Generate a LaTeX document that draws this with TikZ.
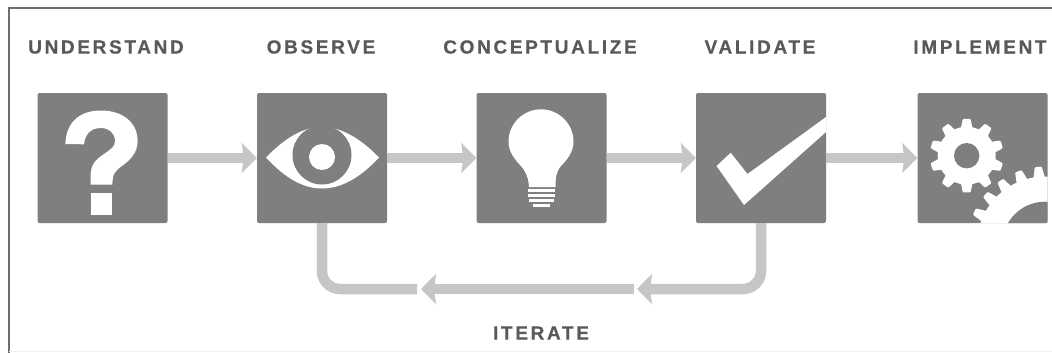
\documentclass[tikz,border=0pt]{standalone}
\usepackage{fontspec}
\setmainfont{Liberation Sans}
\newfontfamily\labelfont[LetterSpace=14,FakeBold=0.4]{Liberation Sans Bold}
\usetikzlibrary{arrows.meta,calc}
\definecolor{boxgray}{HTML}{7F7F7F}
\definecolor{conngray}{HTML}{C6C6C6}
\definecolor{textgray}{HTML}{595959}
\definecolor{framegray}{HTML}{6E6E6E}
\tikzset{
  stepbox/.style={minimum width=130pt,minimum height=130pt,inner sep=0pt,fill=boxgray,rounded corners=2pt},
  steplabel/.style={font=\labelfont\fontsize{19}{22}\selectfont,text=textgray,inner sep=0pt},
  conn/.style={draw=conngray,line width=10.5pt},
  tip/.style={-{Stealth[inset=2pt,length=15pt,width=30pt,fill=conngray]}},
  icon/.style={fill=white,draw=none}
}
\newcommand{\gearpath}[6]{% cx cy rout rroot teeth phase
  \pgfmathsetmacro{\gstep}{360/#5}
  \foreach \gi in {1,...,#5}{
    \pgfmathsetmacro{\ga}{#6+\gi*\gstep}
    \fill[white,rounded corners=1pt] ($(#1,#2)+(-\ga-\gstep*0.17:#3)$) -- ($(#1,#2)+(-\ga+\gstep*0.17:#3)$) -- ($(#1,#2)+(-\ga+\gstep*0.33:#4-1)$) -- ($(#1,#2)+(-\ga-\gstep*0.33:#4-1)$) -- cycle;
  }
  \fill[white] (#1,#2) circle[radius=#4];
}
\begin{document}
\begin{tikzpicture}[x=1pt,y=-1pt]
\useasboundingbox (0,0) rectangle (1052,353);
\fill[white] (0,0) rectangle (1052,353);
% frame
\draw[framegray,line width=1.4pt] (9,353) -- (9,8) -- (1052,8);
\draw[black!6,line width=1pt] (9,351.5) -- (1052,351.5);
% boxes
\node[stepbox] (understand) at (102.5,158) {};
\node[stepbox] (observe) at (322,158) {};
\node[stepbox] (conceptualize) at (541.5,158) {};
\node[stepbox] (validate) at (761,158) {};
\node[stepbox] (implement) at (982.5,158) {};
% labels
\node[steplabel] (lu) at (106,47) {UNDERSTAND};
\node[steplabel] (lo) at (321,47) {OBSERVE};
\node[steplabel] (lc) at (540,47) {CONCEPTUALIZE};
\node[steplabel] (lv) at (760,47) {VALIDATE};
\node[steplabel] (li) at (980,47) {IMPLEMENT};
\node[steplabel] (lit) at (541,333) {ITERATE};
% question
\fill[icon] (65.4,144) .. controls (66,122) and (80,110.5) .. (101,110.5)
  .. controls (122,110.5) and (137.6,122) .. (137.6,141)
  .. controls (137.6,153) and (130,160) .. (122,166)
  .. controls (115,171) and (112.4,174) .. (112.4,184.6)
  -- (90.6,184.6) -- (90.6,176)
  .. controls (90.6,165) and (95,160) .. (104,154)
  .. controls (111,149) and (115,147) .. (115,141)
  .. controls (115,133) and (109,128) .. (101,128)
  .. controls (91,128) and (85,134) .. (84,144.3) -- cycle;
\fill[icon] (90.6,193) rectangle (112.4,214.8);
% eye
\fill[icon] (266,157.5) .. controls (285,138) and (303,127) .. (322,127)
  .. controls (341,127) and (360,138) .. (379,157.5)
  .. controls (360,178) and (341,188.5) .. (322,188.5)
  .. controls (303,188.5) and (285,178) .. (266,157.5) -- cycle;
\fill[boxgray] (322,155) circle[radius=29.5];
\fill[icon] (322,157) circle[radius=13];
% bulb
\fill[icon] (541,109.3) .. controls (559,109.3) and (573.5,124) .. (573.5,141.7)
  .. controls (573.5,151) and (568,159) .. (561,166)
  .. controls (556,172) and (555.5,178) .. (555.5,187) -- (529,187)
  .. controls (528.5,178) and (526,172) .. (521,166)
  .. controls (514,159) and (508.5,151) .. (508.5,141.7)
  .. controls (508.5,124) and (523,109.3) .. (541,109.3) -- cycle;
\fill[icon] (528,189.3) rectangle (555,192.3);
\fill[icon] (528,194) rectangle (555,197.3);
\fill[icon] (529,199) rectangle (554,202.3);
\fill[icon] (532.5,204.3) rectangle (550,207.3);
% check
\fill[icon] (716.6,166) -- (730.7,152.7) -- (747.5,174) -- (826,117) -- (826,132) -- (744,205) -- cycle;
% gears
\begin{scope}
  \clip[rounded corners=2pt] (implement.south west) rectangle (implement.north east);
  \gearpath{966.7}{155.7}{37}{29}{10}{90}
  \fill[boxgray] (966.7,155.7) circle[radius=12.7];
  \gearpath{1045}{244.5}{78}{68}{24}{95}
  \fill[boxgray] (1045,244.5) circle[radius=42.8];
\end{scope}
% connectors
\draw[conn,tip] (understand.east) -- (observe.west);
\draw[conn,tip] (observe.east) -- (conceptualize.west);
\draw[conn,tip] (conceptualize.east) -- (validate.west);
\draw[conn,tip] (validate.east) -- (implement.west);
\coordinate (tipA) at (637,289);
\coordinate (tailA) at (634,289);
\coordinate (tipB) at (421,289);
\coordinate (tailB) at (417,289);
\draw[conn,tip,rounded corners=18pt] (validate.south) |- (tipA);
\draw[conn,tip] (tailA) -- (tipB);
\draw[conn,rounded corners=18pt] (tailB) -| (observe.south);
\end{tikzpicture}
\end{document}
